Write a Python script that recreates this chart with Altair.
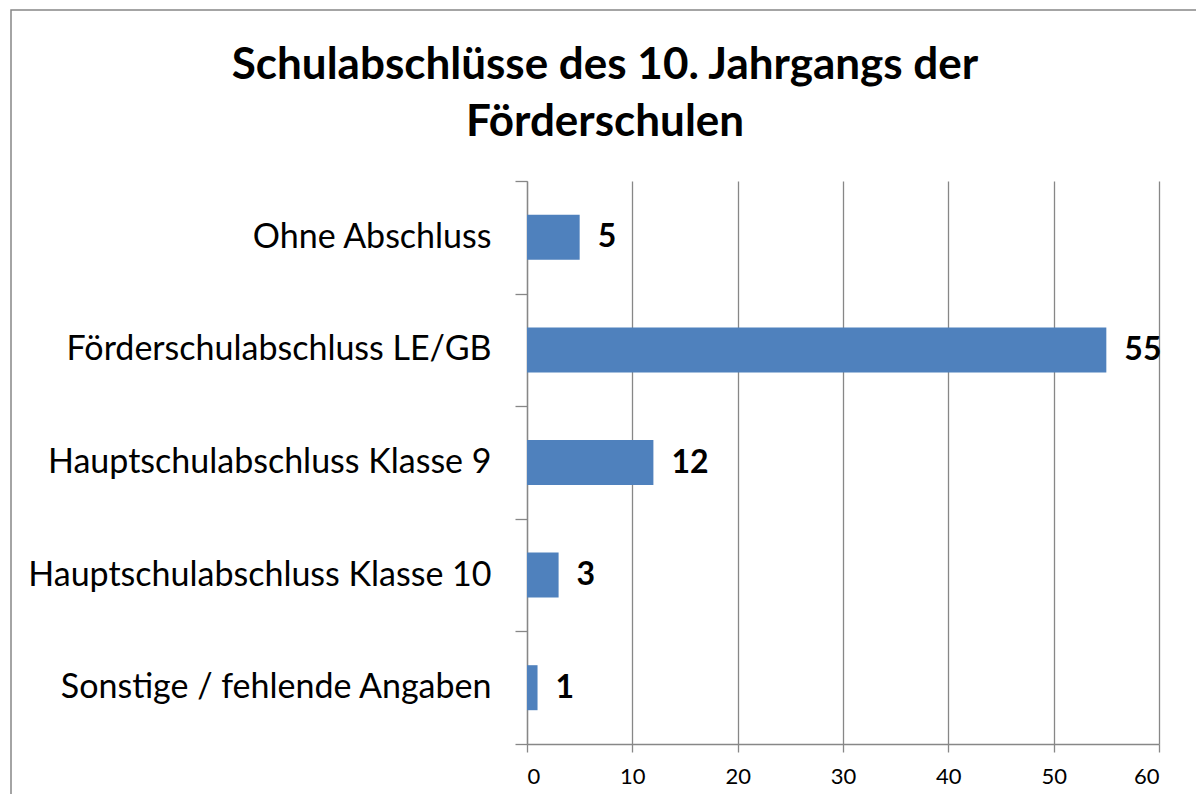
import altair as alt
import pandas as pd

categories = ["Ohne Abschluss", "Förderschulabschluss LE/GB", "Hauptschulabschluss Klasse 9",
              "Hauptschulabschluss Klasse 10", "Sonstige / fehlende Angaben"]
values = [5, 55, 12, 3, 1]
x_ticks = [0, 10, 20, 30, 40, 50, 60]
title_lines = ["Schulabschlüsse des 10. Jahrgangs der", "Förderschulen"]

df = pd.DataFrame({"cat": categories, "val": values})
FONT = "Lato"
GRAY = "#878787"

x = alt.X("val:Q", scale=alt.Scale(domain=[0, 60], nice=False),
          axis=alt.Axis(values=x_ticks, title=None, grid=True, gridColor=GRAY, gridWidth=1.3,
                        domainColor=GRAY, domainWidth=1.3, tickColor=GRAY, tickWidth=1.3, tickSize=8,
                        labelFont=FONT, labelFontSize=22, labelColor="black", labelPadding=14))
y = alt.Y("cat:N", sort=categories, scale=alt.Scale(paddingInner=0, paddingOuter=0),
          axis=alt.Axis(title=None, tickBand="extent", domainColor=GRAY, domainWidth=1.3,
                        tickColor=GRAY, tickWidth=1.3, tickSize=12, labelLimit=0,
                        labelFont=FONT, labelFontSize=34, labelColor="black", labelPadding=24))

bars = alt.Chart(df).mark_bar(color="#4F81BD", size=45).encode(x=x, y=y)
labels = alt.Chart(df).mark_text(align="left", baseline="middle", dx=18, font=FONT,
                                 fontSize=32, fontWeight="bold", color="black").encode(
    x="val:Q", y=alt.Y("cat:N", sort=categories), text="val:Q")

one = alt.Data(values=[{}])
frame = alt.Chart(one).mark_rect(filled=False, stroke=GRAY, strokeWidth=1.5).encode(
    x=alt.value(-516), x2=alt.value(670), y=alt.value(-171), y2=alt.value(640))
t1 = alt.Chart(one).mark_text(text=title_lines[0], font=FONT, fontSize=44, fontWeight="bold",
                              color="black", align="center", baseline="alphabetic").encode(
    x=alt.value(78), y=alt.value(-102))
t2 = alt.Chart(one).mark_text(text=title_lines[1], font=FONT, fontSize=44, fontWeight="bold",
                              color="black", align="center", baseline="alphabetic").encode(
    x=alt.value(78), y=alt.value(-45))

chart = alt.layer(frame, bars, labels, t1, t2).properties(
    width=632, height=563,
    padding={"left": 519, "top": 173, "right": 37, "bottom": 50},
    autosize=alt.AutoSizeParams(type="none"),
).configure_view(stroke=None)

chart.save("out.html", embed_options={"renderer": "svg", "actions": False})
